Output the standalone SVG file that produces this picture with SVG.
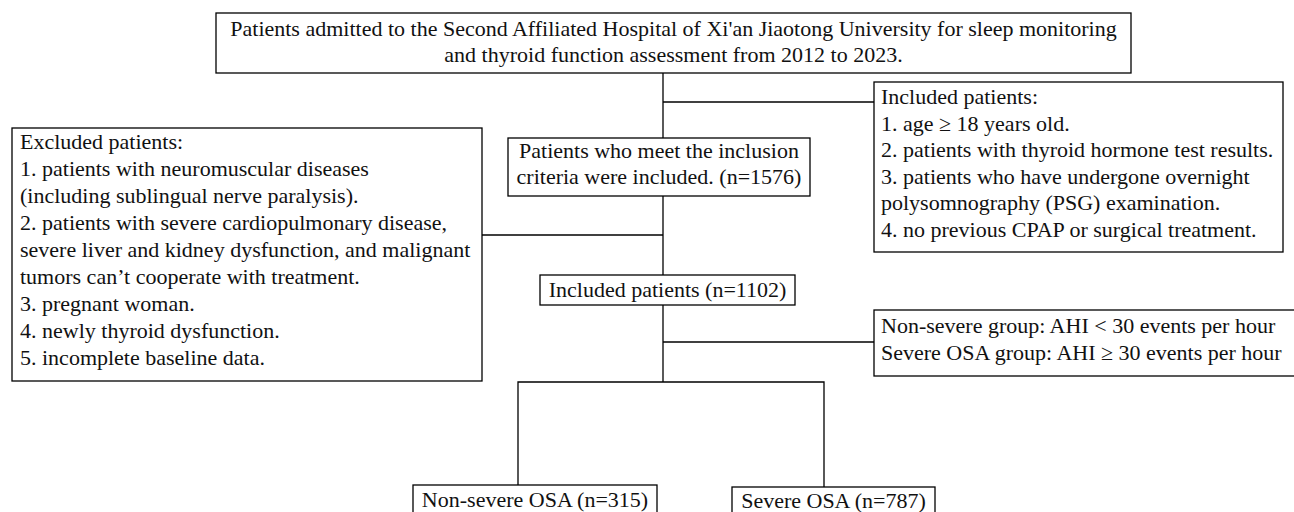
<svg xmlns="http://www.w3.org/2000/svg" width="1294" height="512" viewBox="0 0 1294 512">
<style>
.box{fill:#fff;stroke:#000;stroke-width:1.3}
.ln{fill:none;stroke:#000;stroke-width:1.3}
text{font-family:"Liberation Serif","Times New Roman",serif;font-size:22px;fill:#111}
.c{text-anchor:middle}
</style>
<rect width="1294" height="512" fill="#fff"/>
<g id="connectors">
<line class="ln" x1="663" y1="73" x2="663" y2="138"/>
<line class="ln" x1="663" y1="102" x2="874" y2="102"/>
<line class="ln" x1="663" y1="196" x2="663" y2="275"/>
<line class="ln" x1="482" y1="235" x2="663" y2="235"/>
<line class="ln" x1="663" y1="305" x2="663" y2="382"/>
<line class="ln" x1="663" y1="342" x2="874" y2="342"/>
<polyline class="ln" points="518,485 518,382 824,382 824,487"/>
</g>
<g id="source">
<rect class="box" x="216" y="13" width="915" height="60"/>
<text class="c" x="673.5" y="36">Patients admitted to the Second Affiliated Hospital of Xi'an Jiaotong University for sleep monitoring</text>
<text class="c" x="673.5" y="62">and thyroid function assessment from 2012 to 2023.</text>
</g>
<g id="inclusion-criteria">
<rect class="box" x="874" y="82" width="409" height="170"/>
<text x="881" y="104">Included patients:</text>
<text x="881" y="130.5">1. age ≥ 18 years old.</text>
<text x="881" y="157">2. patients with thyroid hormone test results.</text>
<text x="881" y="183.5">3. patients who have undergone overnight</text>
<text x="881" y="210">polysomnography (PSG) examination.</text>
<text x="881" y="236.5">4. no previous CPAP or surgical treatment.</text>
</g>
<g id="meet-criteria">
<rect class="box" x="508" y="138" width="302" height="58"/>
<text class="c" x="659" y="158">Patients who meet the inclusion</text>
<text class="c" x="659" y="184">criteria were included. (n=1576)</text>
</g>
<g id="exclusion-criteria">
<rect class="box" x="12" y="128" width="470" height="253"/>
<text x="20" y="149">Excluded patients:</text>
<text x="20" y="176">1. patients with neuromuscular diseases</text>
<text x="20" y="203">(including sublingual nerve paralysis).</text>
<text x="20" y="230">2. patients with severe cardiopulmonary disease,</text>
<text x="20" y="257">severe liver and kidney dysfunction, and malignant</text>
<text x="20" y="284">tumors can’t cooperate with treatment.</text>
<text x="20" y="311">3. pregnant woman.</text>
<text x="20" y="338">4. newly thyroid dysfunction.</text>
<text x="20" y="365">5. incomplete baseline data.</text>
</g>
<g id="included">
<rect class="box" x="540" y="275" width="255" height="30"/>
<text class="c" x="667.5" y="297">Included patients (n=1102)</text>
</g>
<g id="grouping">
<rect class="box" x="874" y="310" width="430" height="66"/>
<text x="881" y="333">Non-severe group: AHI &lt; 30 events per hour</text>
<text x="881" y="360">Severe OSA group: AHI ≥ 30 events per hour</text>
</g>
<g id="non-severe">
<rect class="box" x="413" y="485" width="244" height="40"/>
<text class="c" x="535" y="507">Non-severe OSA (n=315)</text>
</g>
<g id="severe">
<rect class="box" x="732" y="487" width="203" height="40"/>
<text class="c" x="833.5" y="508">Severe OSA (n=787)</text>
</g>
</svg>
